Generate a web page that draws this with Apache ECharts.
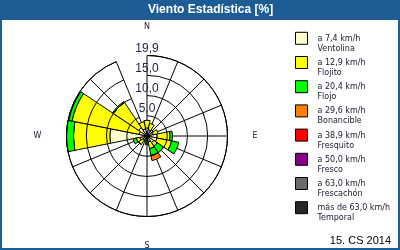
<!DOCTYPE html>
<html>
<head>
<meta charset="utf-8">
<script src="https://cdn.jsdelivr.net/npm/echarts@6/dist/echarts.min.js"></script>
<style>
html,body{margin:0;padding:0;background:#fff;}
#c{width:400px;height:250px;}
</style>
</head>
<body>
<div id="c"></div>
<script>
// Directions (clockwise from north)
var directions = ['N','NNE','NE','ENE','E','ESE','SE','SSE','S','SSW','SW','WSW','W','WNW','NW','NNW'];
var shownDirections = ['N','E','S','W'];
// Ring tick labels
var ringTicks = [5.0, 10.0, 15.0, 19.9];
var radiusMax = 19.9;
// Wind class names and speed labels
var speedLabels = ['a 7,4 km/h','a 12,9 km/h','a 20,4 km/h','a 29,6 km/h','a 38,9 km/h','a 50,0 km/h','a 63,0 km/h','más de 63,0 km/h'];
var classNames = ['Ventolina','Flojito','Flojo','Bonancible','Fresquito','Fresco','Frescachón','Temporal'];
var classColors = ['#ffffcc','#ffff00','#00ff00','#ff8000','#ff0000','#880088','#6a6a6a','#262626'];
// Frequencies [%] per direction for each class
var ventolina  = [2.0, 1.6, 1.4, 1.6, 2.5, 2.5, 2.0, 1.5, 0.8, 1.0, 1.3, 1.8, 9.2, 2.0, 2.5, 1.8];
var flojito    = [1.9, 1.6, 0.4, 1.2, 3.2, 3.7, 1.0, 1.7, 0.5, 0.3, 1.2, 0.9, 9.0, 16.9, 7.5, 1.8];
var flojo      = [0, 0, 0, 0, 0.6, 1.8, 1.9, 1.7, 0.5, 0, 0.1, 0.8, 1.7, 0.8, 0.3, 0];
var bonancible = [0, 0, 0, 0, 0, 0, 0, 1.3, 0.4, 0, 0, 0, 0, 0, 0, 0];
var fresquito  = [0,0,0,0,0,0,0,0,0,0,0,0,0,0,0,0];
var fresco     = [0,0,0,0,0,0,0,0,0,0,0,0,0,0,0,0];
var frescachon = [0,0,0,0,0,0,0,0,0,0,0,0,0,0,0,0];
var temporal   = [0,0,0,0,0,0,0,0,0,0,0,0,0,0,0,0];
var classValues = [ventolina, flojito, flojo, bonancible, fresquito, fresco, frescachon, temporal];
var footerText = '15. CS 2014';
var titleText = 'Viento Estadística [%]';

var chart = echarts.init(document.getElementById('c'), null, {renderer:'canvas'});
var series = classNames.map(function(name, i){
  return {
    type: 'bar',
    coordinateSystem: 'polar',
    name: name,
    stack: 'wind',
    barCategoryGap: '0%',
    data: classValues[i].map(function(v){ return v === 0 ? null : v; }),
    itemStyle: { color: classColors[i], borderColor: '#000', borderWidth: 1 },
    emphasis: { disabled: true },
    silent: true,
    animation: false
  };
});
var speedByName = {};
classNames.forEach(function(n, i){ speedByName[n] = speedLabels[i]; });

chart.setOption({
  animation: false,
  backgroundColor: '#fff',
  title: [{
    text: titleText, left: 148, top: 4, padding: 0,
    textStyle: { color: '#fff', fontSize: 12, fontWeight: 'bold', fontFamily: 'Liberation Sans' }
  }, {
    text: footerText, right: 9, top: 235, padding: 0,
    textStyle: { color: '#000', fontSize: 11, fontWeight: 'normal', fontFamily: 'Liberation Sans' }
  }],
  graphic: [
    { type: 'rect', z: -10, shape: { x: 0, y: 0, width: 400, height: 20 }, style: { fill: '#1e5c96' } },
    { type: 'rect', z: 100, shape: { x: 1, y: 1, width: 398, height: 248 }, style: { fill: 'none', stroke: '#1e5c96', lineWidth: 2 } }
  ],
  legend: {
    orient: 'vertical', left: 295, top: 24.3, padding: 0,
    itemWidth: 12, itemHeight: 12, itemGap: -4.3,
    icon: 'rect', selectedMode: false,
    data: classNames,
    formatter: function(n){ return '{b| }\n{s|' + speedByName[n] + '}\n{s|' + n + '}'; },
    itemStyle: { borderColor: '#000', borderWidth: 1 },
    textStyle: {
      fontSize: 8, fontFamily: 'DejaVu Sans', color: '#202030', padding: [0, 0, 0, 5],
      rich: {
        b: { fontSize: 8, lineHeight: 11 },
        s: { fontSize: 8, lineHeight: 10, fontFamily: 'DejaVu Sans', color: '#202030' }
      }
    }
  },
  polar: { center: [147, 136], radius: 80.5 },
  angleAxis: {
    type: 'category', data: directions, startAngle: 90, clockwise: true, boundaryGap: false,
    axisLine: { show: true, lineStyle: { color: '#000', width: 1 } },
    axisTick: { show: false },
    splitLine: { show: true, lineStyle: { color: '#000', width: 1 } },
    axisLabel: {
      margin: 25, interval: 0, fontSize: 8, fontFamily: 'DejaVu Sans', color: '#202030',
      formatter: function(v){ return shownDirections.indexOf(v) >= 0 ? v : ''; }
    }
  },
  radiusAxis: {
    type: 'value', min: 0, max: radiusMax, interval: 5,
    axisLine: { show: false }, axisTick: { show: false },
    splitLine: { show: true, lineStyle: { color: '#000', width: 1 } },
    axisLabel: {
      margin: 0, align: 'center', verticalAlign: 'bottom', padding: [0, 0, 1, 0],
      fontSize: 12, fontFamily: 'Liberation Sans', color: '#22224a',
      formatter: function(v){
        for (var i = 0; i < ringTicks.length; i++) {
          if (Math.abs(ringTicks[i] - v) < 1e-6) return ringTicks[i].toFixed(1).replace('.', ',');
        }
        return '';
      }
    },
    z: 5
  },
  series: series
});
</script>
</body>
</html>
